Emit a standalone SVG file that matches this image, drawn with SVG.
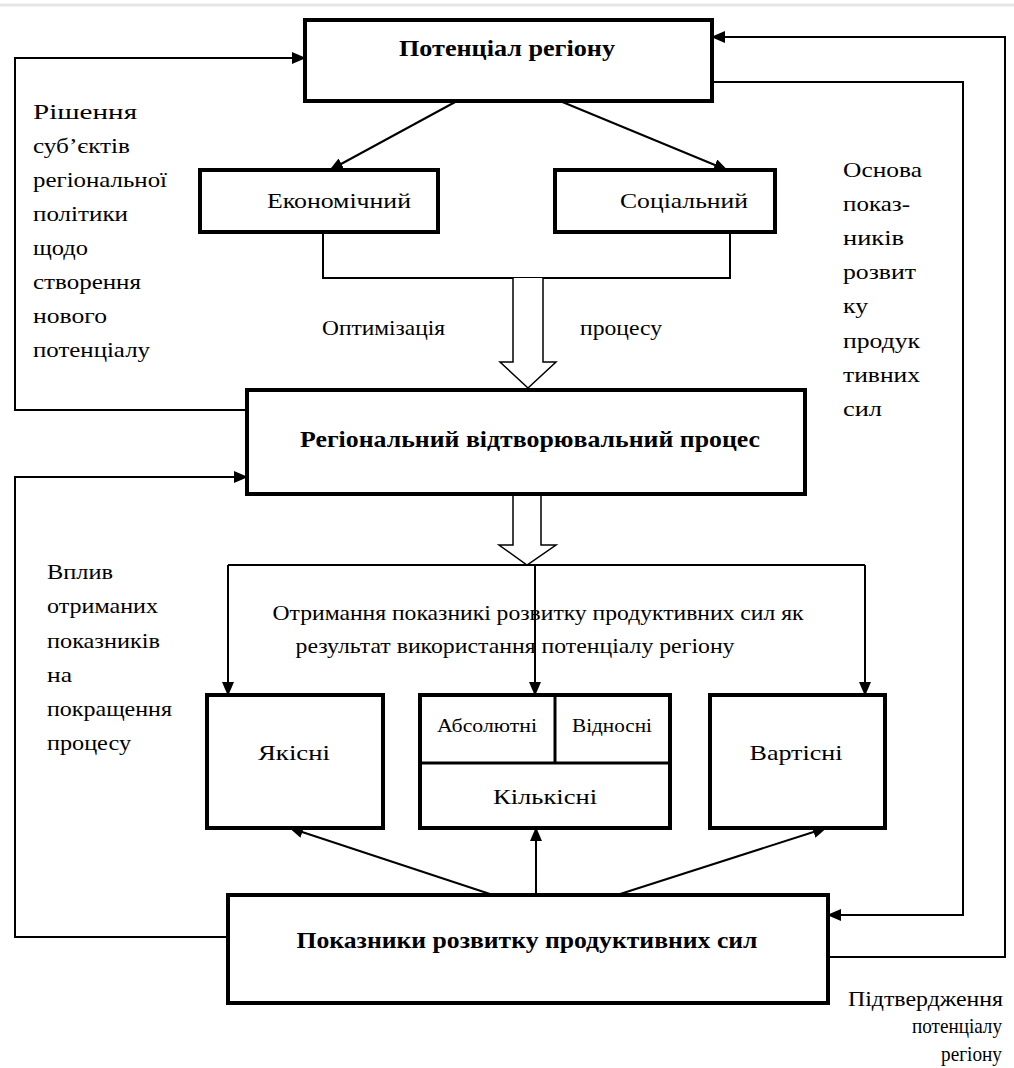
<svg xmlns="http://www.w3.org/2000/svg" width="1014" height="1068" viewBox="0 0 1014 1068">
<defs>
<marker id="ah" markerUnits="userSpaceOnUse" markerWidth="14" markerHeight="12" refX="13" refY="6" orient="auto">
<path d="M0,0 L14,6 L0,12 Z" fill="#000"/>
</marker>
<style>
.box{fill:#fff;stroke:#000;stroke-width:4}
.ln{fill:none;stroke:#000;stroke-width:2}
.hollow{fill:#fff;stroke:#000;stroke-width:1.5}
text{font-family:'Liberation Serif','DejaVu Serif',serif;fill:#000}
.t{font-size:22px}
.tb{font-size:23px;font-weight:bold}
.ts{font-size:18px}
.c{text-anchor:middle}
</style>
</defs>
<rect width="1014" height="1068" fill="#fff"/>
<line x1="0" y1="5" x2="1014" y2="5" stroke="#e6e6e6" stroke-width="3"/>

<g id="connectors">
<polyline class="ln" points="248,410 15,410 15,58 305,58" marker-end="url(#ah)"/>
<polyline class="ln" points="228,937 15,937 15,477 247,477" marker-end="url(#ah)"/>
<polyline class="ln" points="828,957 1005,957 1005,37 712,37" marker-end="url(#ah)"/>
<polyline class="ln" points="712,82 963,82 963,915 828,915" marker-end="url(#ah)"/>
<line class="ln" x1="457" y1="101" x2="330" y2="170" marker-end="url(#ah)"/>
<line class="ln" x1="560" y1="101" x2="727" y2="170" marker-end="url(#ah)"/>
<polyline class="ln" points="323,232 323,278 730,278 730,232"/>
<path class="hollow" d="M513,278 L513,362 L500,362 L528,388 L556,362 L543,362 L543,278"/>
<path class="hollow" d="M513,494 L513,545 L499,545 L527,565 L556,545 L541,545 L541,494"/>
<line class="ln" x1="228" y1="565" x2="865" y2="565"/>
<line class="ln" x1="228" y1="565" x2="228" y2="695" marker-end="url(#ah)"/>
<line class="ln" x1="535" y1="565" x2="535" y2="695" marker-end="url(#ah)"/>
<line class="ln" x1="865" y1="565" x2="865" y2="695" marker-end="url(#ah)"/>
<line class="ln" x1="493" y1="895" x2="290" y2="828" marker-end="url(#ah)"/>
<line class="ln" x1="536" y1="895" x2="536" y2="828" marker-end="url(#ah)"/>
<line class="ln" x1="617" y1="895" x2="826" y2="828" marker-end="url(#ah)"/>
</g>

<g id="potential">
<rect class="box" x="305" y="20" width="407" height="81"/>
<text class="tb c" x="507" y="56" textLength="216" lengthAdjust="spacingAndGlyphs">Потенціал  регіону</text>
</g>
<g id="economic">
<rect class="box" x="200" y="170" width="238" height="62"/>
<text class="t c" x="339" y="208" textLength="144" lengthAdjust="spacingAndGlyphs">Економічний</text>
</g>
<g id="social">
<rect class="box" x="555" y="170" width="220" height="62"/>
<text class="t c" x="684" y="208" textLength="128" lengthAdjust="spacingAndGlyphs">Соціальний</text>
</g>
<g id="regional">
<rect class="box" x="247" y="390" width="558" height="104"/>
<text class="tb c" x="530" y="447" textLength="460" lengthAdjust="spacingAndGlyphs">Регіональний відтворювальний процес</text>
</g>
<g id="yakisni">
<rect class="box" x="207" y="695" width="176" height="133"/>
<text class="t c" x="294" y="760" textLength="72" lengthAdjust="spacingAndGlyphs">Якісні</text>
</g>
<g id="kilkisni">
<rect class="box" x="420" y="695" width="250" height="133"/>
<line x1="420" y1="763" x2="670" y2="763" stroke="#000" stroke-width="3"/>
<line x1="555" y1="695" x2="555" y2="763" stroke="#000" stroke-width="3"/>
<text class="ts c" x="487" y="732" textLength="100" lengthAdjust="spacingAndGlyphs">Абсолютні</text>
<text class="ts c" x="612" y="732" textLength="80" lengthAdjust="spacingAndGlyphs">Відносні</text>
<text class="t c" x="545" y="804" textLength="104" lengthAdjust="spacingAndGlyphs">Кількісні</text>
</g>
<g id="vartisni">
<rect class="box" x="710" y="695" width="175" height="133"/>
<text class="t c" x="796" y="760" textLength="93" lengthAdjust="spacingAndGlyphs">Вартісні</text>
</g>
<g id="indicators">
<rect class="box" x="228" y="895" width="600" height="108"/>
<text class="tb c" x="527" y="948" textLength="461" lengthAdjust="spacingAndGlyphs">Показники розвитку продуктивних сил</text>
</g>

<g id="labels">
<text class="t" x="322" y="335" textLength="123" lengthAdjust="spacingAndGlyphs">Оптимізація</text>
<text class="t" x="580" y="335" textLength="82" lengthAdjust="spacingAndGlyphs">процесу</text>
<text class="t c" x="538" y="620" textLength="531" lengthAdjust="spacingAndGlyphs">Отримання показникі розвитку продуктивних сил як</text>
<text class="t c" x="515" y="653" textLength="439" lengthAdjust="spacingAndGlyphs">результат використання потенціалу регіону</text>
</g>
<g id="left-text">
<text class="t" x="33" y="119" textLength="104" lengthAdjust="spacingAndGlyphs">Рішення</text>
<text class="t" x="33" y="153" textLength="97" lengthAdjust="spacingAndGlyphs">суб’єктів</text>
<text class="t" x="33" y="187" textLength="134" lengthAdjust="spacingAndGlyphs">регіональної</text>
<text class="t" x="33" y="221" textLength="95" lengthAdjust="spacingAndGlyphs">політики</text>
<text class="t" x="33" y="255" textLength="55" lengthAdjust="spacingAndGlyphs">щодо</text>
<text class="t" x="33" y="289" textLength="108" lengthAdjust="spacingAndGlyphs">створення</text>
<text class="t" x="33" y="323" textLength="74" lengthAdjust="spacingAndGlyphs">нового</text>
<text class="t" x="33" y="357" textLength="117" lengthAdjust="spacingAndGlyphs">потенціалу</text>
</g>
<g id="right-text">
<text class="t" x="843" y="177" textLength="79" lengthAdjust="spacingAndGlyphs">Основа</text>
<text class="t" x="843" y="211" textLength="67" lengthAdjust="spacingAndGlyphs">показ-</text>
<text class="t" x="843" y="245" textLength="61" lengthAdjust="spacingAndGlyphs">ників</text>
<text class="t" x="843" y="279" textLength="73" lengthAdjust="spacingAndGlyphs">розвит</text>
<text class="t" x="843" y="313" textLength="25" lengthAdjust="spacingAndGlyphs">ку</text>
<text class="t" x="843" y="348" textLength="77" lengthAdjust="spacingAndGlyphs">продук</text>
<text class="t" x="843" y="382" textLength="77" lengthAdjust="spacingAndGlyphs">тивних</text>
<text class="t" x="843" y="416" textLength="39" lengthAdjust="spacingAndGlyphs">сил</text>
</g>
<g id="vplyv-text">
<text class="t" x="47" y="579" textLength="66" lengthAdjust="spacingAndGlyphs">Вплив</text>
<text class="t" x="47" y="613" textLength="111" lengthAdjust="spacingAndGlyphs">отриманих</text>
<text class="t" x="47" y="648" textLength="113" lengthAdjust="spacingAndGlyphs">показників</text>
<text class="t" x="47" y="682" textLength="25" lengthAdjust="spacingAndGlyphs">на</text>
<text class="t" x="47" y="716" textLength="125" lengthAdjust="spacingAndGlyphs">покращення</text>
<text class="t" x="47" y="750" textLength="84" lengthAdjust="spacingAndGlyphs">процесу</text>
</g>
<g id="confirm-text">
<text class="t" x="848" y="1006" textLength="155" lengthAdjust="spacingAndGlyphs">Підтвердження</text>
<text class="t" x="912" y="1033" textLength="90" lengthAdjust="spacingAndGlyphs">потенціалу</text>
<text class="t" x="941" y="1061" textLength="61" lengthAdjust="spacingAndGlyphs">регіону</text>
</g>
</svg>
